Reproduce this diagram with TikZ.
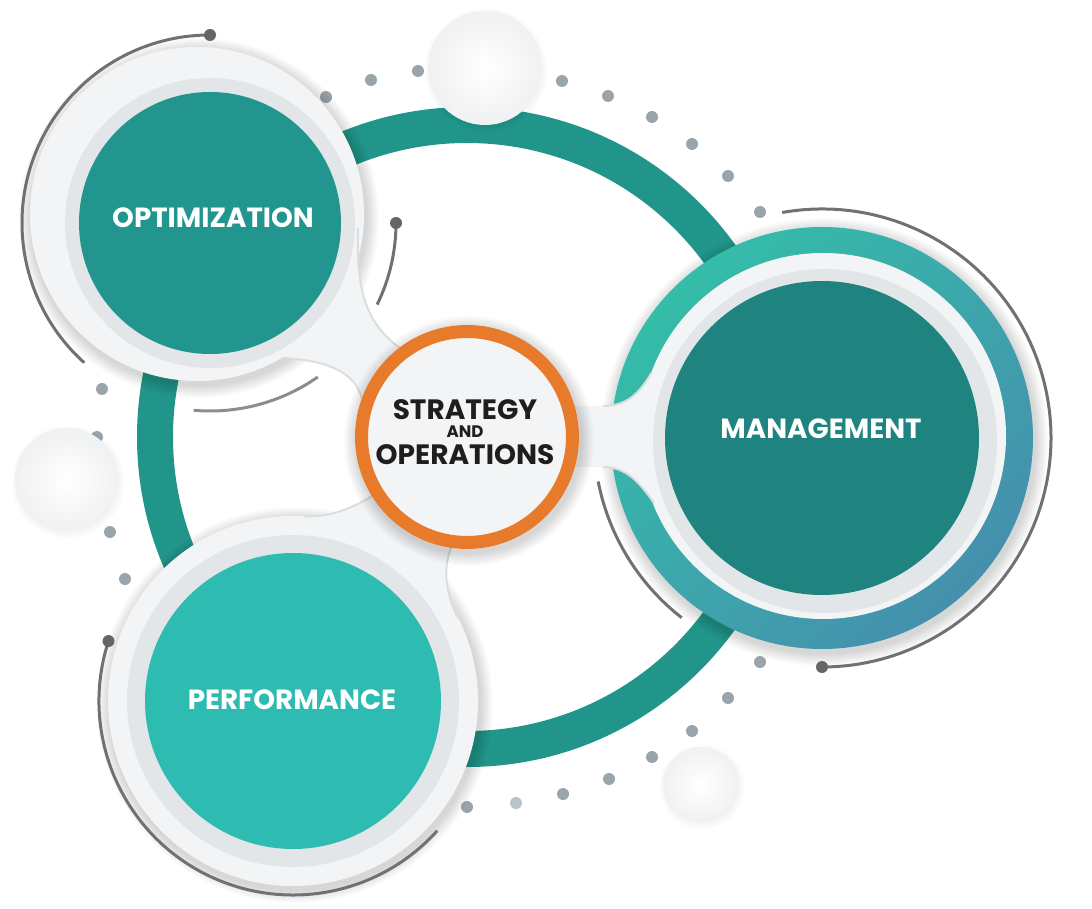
\documentclass[tikz,border=0pt]{standalone}
\usepackage{fontspec}
\setmainfont{Poppins}
\usetikzlibrary{calc}
\definecolor{ringteal}{HTML}{21958A}
\definecolor{optteal}{HTML}{22968E}
\definecolor{mgmtteal}{HTML}{1F837F}
\definecolor{perfteal}{HTML}{2EBBB2}
\definecolor{gradA}{HTML}{34BDA9}
\definecolor{gradB}{HTML}{4590AD}
\definecolor{halo}{HTML}{F3F4F5}
\definecolor{band}{HTML}{E3E6E8}
\definecolor{orng}{HTML}{E77A2B}
\definecolor{dotgray}{HTML}{9AA5AB}
\definecolor{dotlight}{HTML}{BAC3C7}
\definecolor{arcgray}{HTML}{6E7275}
\definecolor{txtdark}{HTML}{1E1E1E}
\definecolor{neckedge}{HTML}{D9DEE0}
\definecolor{sphereedge}{HTML}{F0F1F2}
\newcommand\softshadow[2]{%
  \foreach \i in {1,...,8}{\fill[black,opacity=0.018] ([shift={(2,-4)}]#1) circle[radius=#2+\i*1.6];}}
\newcommand\faintshadow[2]{%
  \foreach \i in {1,...,4}{\fill[black,opacity=0.008] ([shift={(1,-2)}]#1) circle[radius=#2+\i*1.2];}}
\tikzset{
  lbl/.style={text=white, font=\fontsize{20.8}{24}\selectfont\bfseries, inner sep=0pt},
  ctr/.style={text=txtdark, inner sep=0pt},
  garc/.style={arcgray, line width=2.25pt},
  gdot/.style={arcgray!90!black},
  sphere/.style={inner color=white, outer color=sphereedge},
  neck/.style={fill=halo},
  neckline/.style={neckedge, line width=1.5pt}
}
\begin{document}
\begin{tikzpicture}[x=0.75pt,y=0.75pt]
\useasboundingbox (0,0) rectangle (1092,908);
\fill[white] (0,0) rectangle (1092,908);

% centres
\coordinate (C) at (467,471);
\coordinate (O) at (210,685);
\coordinate (OH) at (197,694);
\coordinate (M) at (822,470);
\coordinate (MW) at (823,472);
\coordinate (MB) at (825,467);
\coordinate (P) at (293,207);
\coordinate (S1) at (485,840);
\coordinate (S2) at (67,428);
\coordinate (S3) at (701,123);

% dots
\foreach \p in {(326,811),(371,828),(418,837),(562,827),(608,812),(652,791),(692,764),(728,732),(760,696),
  (102,519),(97,471),(110,376),(125,329),
  (760,246),(728,210),(692,177),(652,151),(609,129),(563,114),(467,101)}
  \fill[dotgray] \p circle[radius=6];
\fill[dotlight] (516,105) circle[radius=6];

% big ring
\draw[ringteal, line width=27pt] (C) circle[radius=312];

% spheres
\faintshadow{S1}{57}
\shade[sphere] (S1) circle[radius=57];
\faintshadow{S2}{52}
\shade[sphere] (S2) circle[radius=52];
\faintshadow{S3}{38}
\shade[sphere] (S3) circle[radius=38];

% management
\softshadow{M}{211}
\shade[top color=gradA, bottom color=gradB, shading angle=45] (M) circle[radius=211];
\fill[halo] (MW) circle[radius=183];
\fill[neck] (560,502) -- (603,502) .. controls (625,502) and (638,512) .. (652,536) -- (700,560) -- (700,385) -- (654,405) .. controls (638,428) and (625,441) .. (603,441) -- (560,441) -- cycle;
\draw[neckline] (603,502) .. controls (625,502) and (638,512) .. (652,536);
\draw[neckline] (654,405) .. controls (638,428) and (625,441) .. (603,441);
\fill[band] (MB) circle[radius=172];
\fill[mgmtteal] (M) circle[radius=157];

% optimization
\softshadow{OH}{167}
\fill[halo] (OH) circle[radius=167];
\fill[neck] (358,680) .. controls (356,620) and (365,585) .. (400,560) -- (440,520) -- (362,509) .. controls (356,534) and (330,548) .. (282,550) -- (230,640) -- cycle;
\draw[neckline] (358,680) .. controls (356,620) and (365,585) .. (400,560);
\draw[neckline] (362,509) .. controls (356,534) and (330,548) .. (282,550);
\fill[band] (O) circle[radius=145];
\fill[optteal] (O) circle[radius=131];

% performance
\softshadow{P}{185}
\fill[halo] (P) circle[radius=185];
\fill[neck] (372,412) .. controls (350,398) and (325,390) .. (304,392) -- (330,300) -- (458,290) .. controls (445,315) and (443,340) .. (451,360) -- (430,430) -- cycle;
\draw[neckline] (372,412) .. controls (350,398) and (325,390) .. (304,392);
\draw[neckline] (458,290) .. controls (445,315) and (443,340) .. (451,360);
\fill[band] (P) circle[radius=166];
\fill[perfteal] (P) circle[radius=148];

% grey arcs
\draw[garc] ([shift={(90:188)}]O) arc[start angle=90, end angle=228, radius=188];
\fill[gdot] ([shift={(90:188)}]O) circle[radius=6];
\draw[garc] ([shift={(0:186)}]O) arc[start angle=0, end angle=-26, radius=186];
\fill[gdot] ([shift={(0:186)}]O) circle[radius=6];
\draw[garc, opacity=.8] ([shift={(-95:188)}]O) arc[start angle=-95, end angle=-55, radius=188];
\draw[garc] ([shift={(100:229)}]M) arc[start angle=100, end angle=-90, radius=229];
\fill[gdot] ([shift={(-90:229)}]M) circle[radius=6];
\draw[garc] ([shift={(191:228)}]M) arc[start angle=191, end angle=232, radius=228];
\draw[garc] ([shift={(162:194)}]P) arc[start angle=162, end angle=318, radius=194];
\fill[gdot] ([shift={(162:194)}]P) circle[radius=6];

% centre
\softshadow{C}{112}
\fill[halo] (C) circle[radius=112];
\draw[orng, line width=9.75pt] (C) circle[radius=105.5];

% labels
\node[lbl] (tOpt) at (213,690) {OPTIMIZATION};
\node[lbl] (tMgmt) at (821,479) {MANAGEMENT};
\node[lbl] (tPerf) at (292,208) {PERFORMANCE};
\node[ctr, align=center, font=\fontsize{21}{21}\selectfont\bfseries] (tSO) at (465,475.5)
  {STRATEGY\\[-7.5pt]{\fontsize{12.5}{12}\selectfont AND}\\[-0.75pt]OPERATIONS};
\end{tikzpicture}
\end{document}
